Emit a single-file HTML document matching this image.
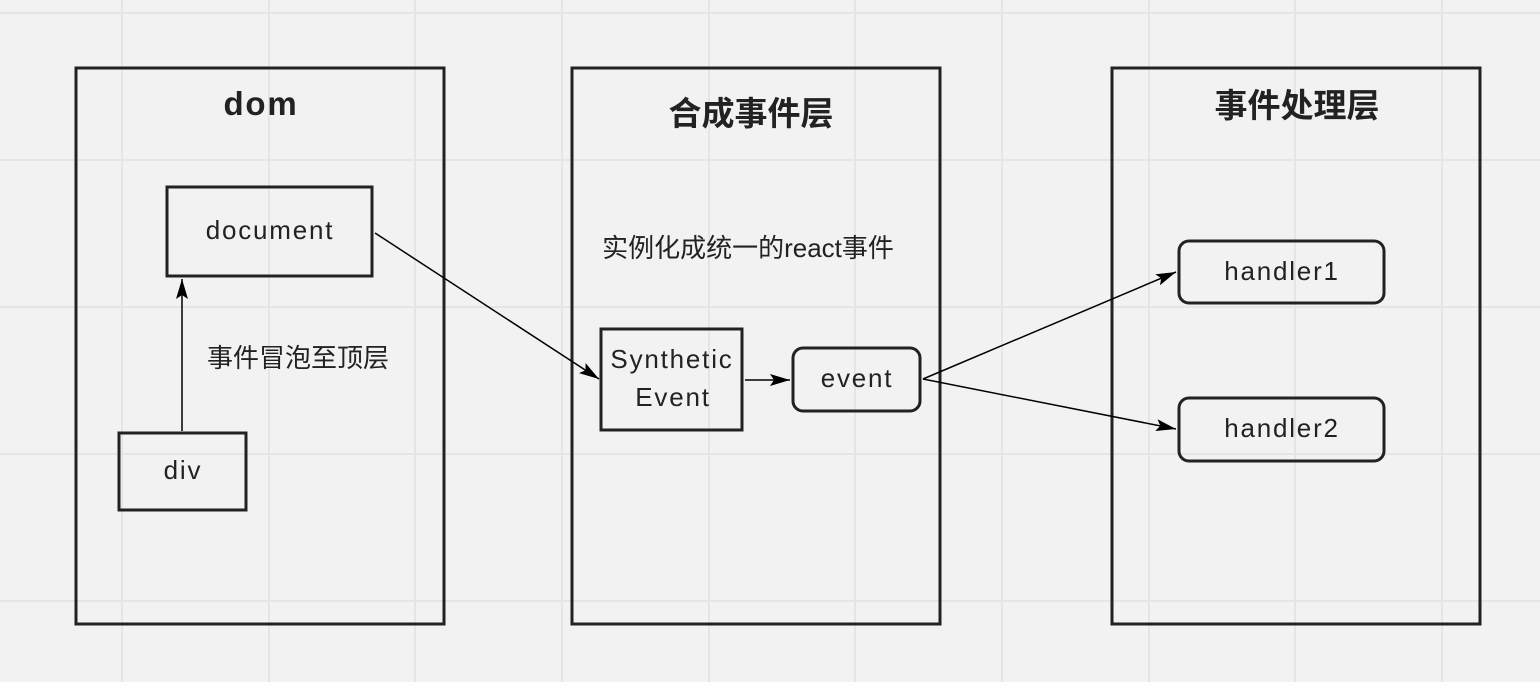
<!DOCTYPE html>
<html><head><meta charset="utf-8"><style>
html,body{margin:0;padding:0;background:#f2f2f2;}
svg{display:block;}
text{font-family:"Liberation Sans","Noto Sans CJK SC",sans-serif;fill:#222;}
.l{letter-spacing:1.8px;}
</style></head><body>
<svg width="1540" height="682" viewBox="0 0 1540 682" xmlns="http://www.w3.org/2000/svg">
<defs>
<marker id="a" markerWidth="20" markerHeight="12" refX="20" refY="6" orient="auto" markerUnits="userSpaceOnUse">
<path d="M0,0 L20,6 L0,12 L4,6 Z" fill="#000"/></marker>
</defs>
<rect width="1540" height="682" fill="#f2f2f2"/>
<g stroke="#e5e5e5" stroke-width="2">
<line x1="122" y1="0" x2="122" y2="682"/><line x1="269" y1="0" x2="269" y2="682"/><line x1="415" y1="0" x2="415" y2="682"/>
<line x1="562" y1="0" x2="562" y2="682"/><line x1="709" y1="0" x2="709" y2="682"/><line x1="855" y1="0" x2="855" y2="682"/>
<line x1="1002" y1="0" x2="1002" y2="682"/><line x1="1149" y1="0" x2="1149" y2="682"/><line x1="1295" y1="0" x2="1295" y2="682"/>
<line x1="1442" y1="0" x2="1442" y2="682"/>
<line x1="0" y1="13" x2="1540" y2="13"/><line x1="0" y1="160" x2="1540" y2="160"/><line x1="0" y1="307" x2="1540" y2="307"/>
<line x1="0" y1="454" x2="1540" y2="454"/><line x1="0" y1="601" x2="1540" y2="601"/>
</g>
<g fill="none" stroke="#222" stroke-width="3">
<rect x="76" y="68" width="368" height="556"/>
<rect x="572" y="68" width="368" height="556"/>
<rect x="1112" y="68" width="368" height="556"/>
<rect x="167" y="187" width="205" height="89"/>
<rect x="119" y="433" width="127" height="77"/>
<rect x="601" y="329" width="141" height="101"/>
<rect x="793" y="348" width="127" height="63" rx="10"/>
<rect x="1179" y="241" width="205" height="62" rx="10"/>
<rect x="1179" y="398" width="205" height="63" rx="10"/>
</g>
<g stroke="#000" stroke-width="1.5" fill="none">
<line x1="182" y1="431" x2="182" y2="279" marker-end="url(#a)"/>
<line x1="375" y1="233" x2="599" y2="379" marker-end="url(#a)"/>
<line x1="745" y1="380" x2="790" y2="380" marker-end="url(#a)"/>
<line x1="923" y1="379" x2="1176" y2="272" marker-end="url(#a)"/>
<line x1="923" y1="379" x2="1176" y2="429" marker-end="url(#a)"/>
</g>
<g font-size="33" font-weight="bold" text-anchor="middle">
<text x="261" y="115" class="l">dom</text>
<text x="751" y="125">合成事件层</text>
<text x="1297" y="117">事件处理层</text>
</g>
<g font-size="26" text-anchor="middle">
<text x="270" y="239" class="l">document</text>
<text x="183" y="479" class="l">div</text>
<text x="672" y="368" class="l">Synthetic</text>
<text x="673" y="406" class="l">Event</text>
<text x="857" y="387" class="l">event</text>
<text x="1282" y="280" class="l">handler1</text>
<text x="1282" y="437" class="l">handler2</text>
<text x="748" y="257">实例化成统一的react事件</text>
<text x="298" y="367">事件冒泡至顶层</text>
</g>
</svg>
</body></html>
